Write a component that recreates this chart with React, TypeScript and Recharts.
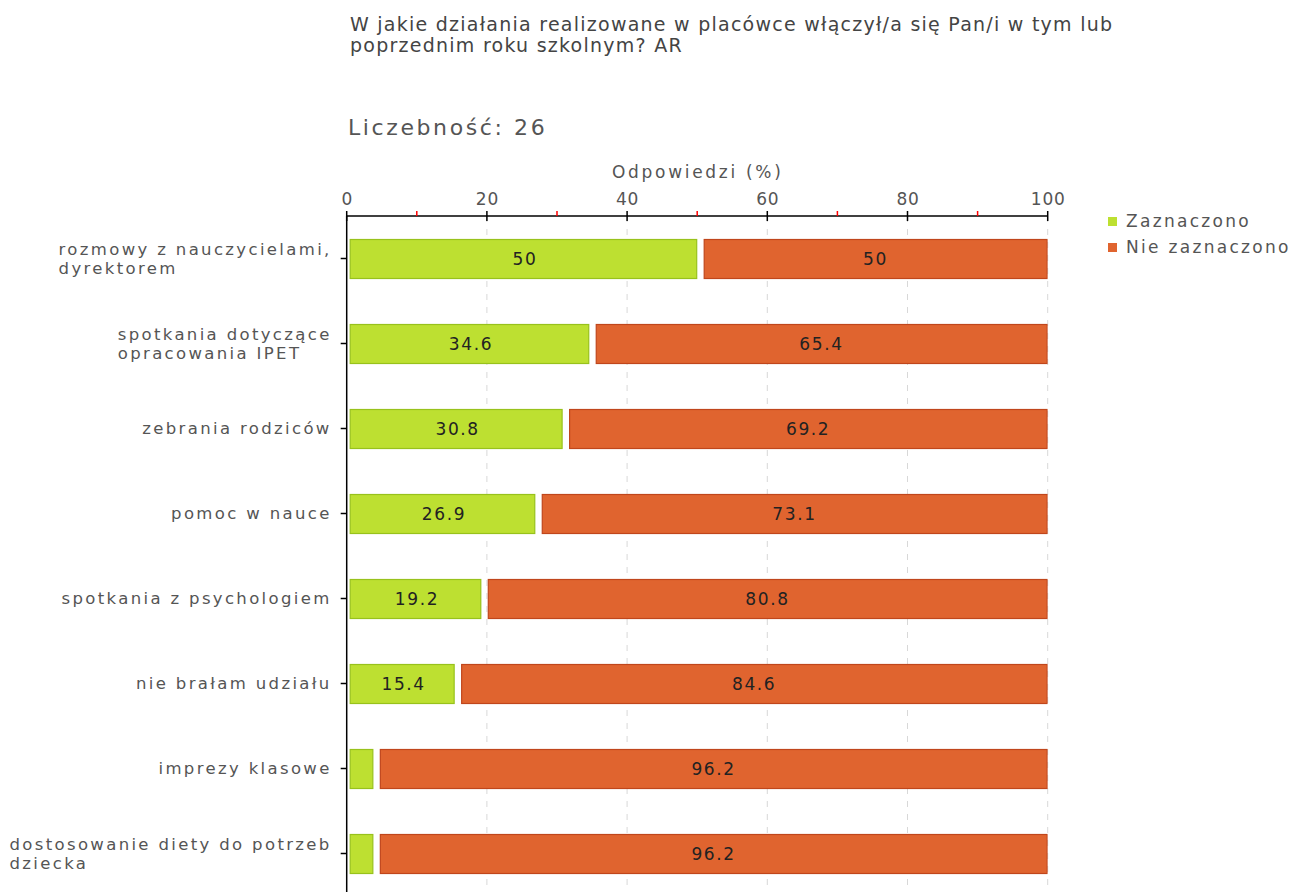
import React from 'react';
import { BarChart, Bar, XAxis, YAxis, CartesianGrid, LabelList } from 'recharts';

const categories = [
  'rozmowy z nauczycielami,\ndyrektorem',
  'spotkania dotyczące\nopracowania IPET',
  'zebrania rodziców',
  'pomoc w nauce',
  'spotkania z psychologiem',
  'nie brałam udziału',
  'imprezy klasowe',
  'dostosowanie diety do potrzeb\ndziecka',
];
const checked = [50, 34.6, 30.8, 26.9, 19.2, 15.4, 3.8, 3.8];
const notChecked = [50, 65.4, 69.2, 73.1, 80.8, 84.6, 96.2, 96.2];
const axisTicks = [0, 10, 20, 30, 40, 50, 60, 70, 80, 90, 100];
const gridValues = [20, 40, 60, 80, 100];

const SERIES = [
  { key: 'checked', name: 'Zaznaczono', fill: '#bde031', stroke: '#98c21c', inset: 3 },
  { key: 'notChecked', name: 'Nie zaznaczono', fill: '#e0642f', stroke: '#c0461c', inset: 6.5 },
];

const data = categories.map((name, i) => ({ name, checked: checked[i], notChecked: notChecked[i] }));

const FONT = '"DejaVu Sans", Verdana, sans-serif';

const makeShape = (s: typeof SERIES[number]) => (props: any) => {
  const { x, y, width, height } = props;
  const w = width - s.inset;
  if (w <= 0) return null;
  return (
    <rect x={x + s.inset + 0.5} y={y + 0.5} width={w - 1} height={height - 1}
      fill={s.fill} stroke={s.stroke} strokeWidth={1.2} />
  );
};

const XTick = (props: any) => {
  const { x, y, payload } = props;
  const v = payload.value;
  if (v % 20 !== 0) {
    return <line x1={x} x2={x} y1={y - 5} y2={y} stroke="#ff0000" strokeWidth={1.5} />;
  }
  return (
    <g>
      <line x1={x} x2={x} y1={y - 5} y2={y + 5} stroke="#000" strokeWidth={1.5} />
      <text x={x + 0.5} y={y - 11} textAnchor="middle" fontSize={17} fill="#555" fontFamily={FONT}
        letterSpacing={0.8}>{v}</text>
    </g>
  );
};

const YTick = (props: any) => {
  const { x, y, payload } = props;
  const lines = String(payload.value).split('\n');
  return (
    <g>
      <line x1={x - 6} x2={x} y1={y} y2={y} stroke="#000" strokeWidth={1.5} />
      <foreignObject x={x - 346} y={y - 30} width={331} height={60}>
        <div style={{ width: 331, height: 60, display: 'flex', alignItems: 'center', justifyContent: 'flex-end' }}>
          <div style={{ fontFamily: FONT, fontSize: 16.5, lineHeight: '19px', color: '#555', letterSpacing: 2.35, textAlign: 'left', whiteSpace: 'nowrap' }}>
            {lines.map((l, i) => <div key={i}>{l}</div>)}
          </div>
        </div>
      </foreignObject>
    </g>
  );
};

const SegLabel = (props: any) => {
  const { x, y, width, height, value } = props;
  if (value < 10) return null;
  return (
    <text x={x + width / 2 + 3} y={y + height / 2 + 6} textAnchor="middle" fontSize={17}
      fill="#222" fontFamily={FONT} letterSpacing={1.6}>{value}</text>
  );
};

export default function App() {
  return (
    <div style={{ position: 'absolute', left: 0, top: 0, width: 1291, height: 892, overflow: 'hidden', background: '#fff' }}>
      <div style={{ position: 'absolute', left: 350, top: 14, fontFamily: FONT, fontSize: 19, lineHeight: '21px', color: '#444', letterSpacing: 1.25, whiteSpace: 'nowrap' }}>
        W jakie działania realizowane w placówce włączył/a się Pan/i w tym lub<br />poprzednim roku szkolnym? AR
      </div>
      <div style={{ position: 'absolute', left: 348, top: 115, fontFamily: FONT, fontSize: 22, color: '#555', letterSpacing: 2.6, whiteSpace: 'nowrap' }}>
        Liczebność: 26
      </div>
      <div style={{ position: 'absolute', left: 612, top: 162, fontFamily: FONT, fontSize: 17, color: '#555', letterSpacing: 2.7, whiteSpace: 'nowrap' }}>
        Odpowiedzi (%)
      </div>
      <div style={{ position: 'absolute', left: 1108, top: 208, fontFamily: FONT, fontSize: 17, color: '#555', letterSpacing: 2.3, whiteSpace: 'nowrap' }}>
        {SERIES.map((s) => (
          <div key={s.key} style={{ display: 'flex', alignItems: 'center', height: 26 }}>
            <span style={{ width: 9, height: 9, background: s.fill, marginRight: 9, display: 'inline-block' }} />
            {s.name}
          </div>
        ))}
      </div>
      <BarChart width={1291} height={900} data={data} layout="vertical" barSize={40}
        margin={{ top: 186, right: 243.3, bottom: 4, left: 16.7 }}>
        <CartesianGrid horizontal={false} stroke="#d8d8d8" strokeDasharray="6 7"
          verticalCoordinatesGenerator={({ xAxis, offset }: any) =>
            gridValues.map((v) => (xAxis && typeof xAxis.scale === 'function'
              ? xAxis.scale(v)
              : offset.left + (offset.width * v) / 100))} />
        <XAxis type="number" orientation="top" domain={[0, 100]} ticks={axisTicks} interval={0}
          height={30} tickSize={0} tickMargin={0} tickLine={false} tick={<XTick />}
          axisLine={{ stroke: '#000', strokeWidth: 1.5 }} allowDataOverflow />
        <YAxis type="category" dataKey="name" width={330} tickSize={0} tickMargin={0} tickLine={false}
          tick={<YTick />} axisLine={{ stroke: '#000', strokeWidth: 1.5 }} interval={0} />
        {SERIES.map((s) => (
          <Bar key={s.key} dataKey={s.key} name={s.name} stackId="a" fill={s.fill}
            shape={makeShape(s)} isAnimationActive={false}>
            <LabelList dataKey={s.key} content={<SegLabel />} />
          </Bar>
        ))}
      </BarChart>
    </div>
  );
}
